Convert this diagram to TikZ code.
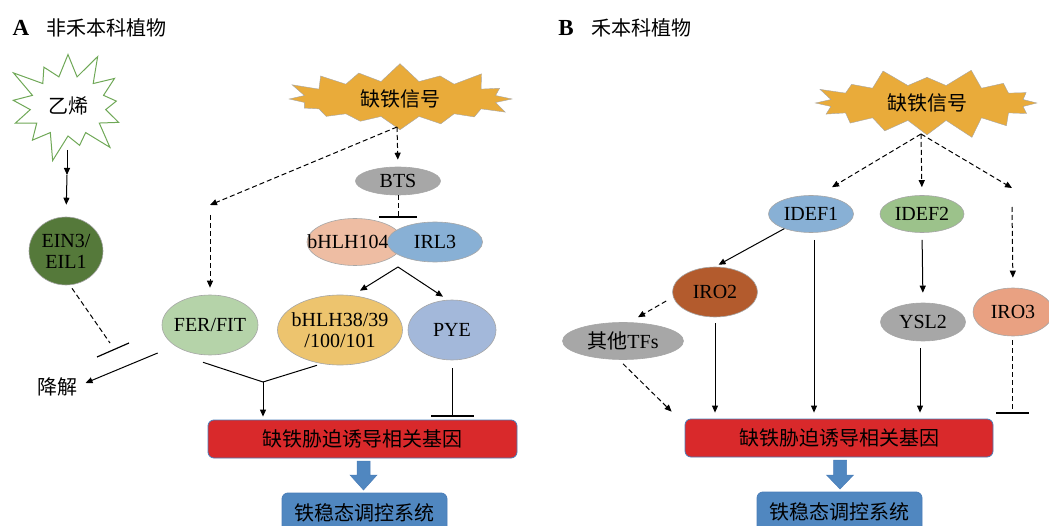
\documentclass[tikz,border=0pt]{standalone}
\usepackage{fontspec}
\setmainfont{Liberation Serif}
\newfontfamily\cjk{Noto Sans CJK SC}
\usetikzlibrary{shapes.geometric,shapes.symbols,arrows.meta}

\definecolor{sigfill}{HTML}{E9AB3A}
\definecolor{ethgreen}{HTML}{6FA857}
\definecolor{einfill}{HTML}{55793A}
\definecolor{ferfill}{HTML}{B5D3A9}
\definecolor{greyfill}{HTML}{A7A7A7}
\definecolor{pinkfill}{HTML}{EEBDA3}
\definecolor{bluefill}{HTML}{88B0D5}
\definecolor{yellowfill}{HTML}{EDC46E}
\definecolor{pyefill}{HTML}{A3B8DA}
\definecolor{idefgreen}{HTML}{9CC28B}
\definecolor{brownfill}{HTML}{B35B2D}
\definecolor{salmonfill}{HTML}{E9A182}
\definecolor{genered}{HTML}{D9292B}
\definecolor{boxedge}{HTML}{4A7DB8}
\definecolor{steelblue}{HTML}{5087C0}

\begin{document}
\begin{tikzpicture}[x=1pt,y=-1pt,font=\fontsize{20}{21}\selectfont,
  ell/.style={ellipse,draw=black!35,line width=0.6pt,inner sep=0pt},
  box/.style={rectangle,rounded corners=6pt,draw=boxedge,line width=0.8pt,inner sep=0pt},
  line/.style={draw,line width=1pt},
  act/.style={line,-{Triangle[length=7pt,width=6pt]}},
  dsh/.style={act,dash pattern=on 5pt off 3pt},
  inhib/.style={line,-{Bar[width=#1,line width=2pt]}},
  blk/.style={fill=steelblue,draw=boxedge,line width=0.5pt}]
\useasboundingbox (0,0) rectangle (1049,526);

% panel A
\node[font=\fontsize{23}{24}\selectfont\bfseries] (la) at (21,28) {A};
\node[anchor=west] (ta) at (43,28) {\cjk 非禾本科植物};

\node[starburst,starburst points=13,starburst point height=30pt,draw=ethgreen,line width=1pt,
  fill=white,minimum width=136pt,minimum height=120pt] (eth) at (68,106) {\cjk 乙烯};
\node[starburst,random starburst=17,starburst points=16,starburst point height=20pt,
  draw=black!35,fill=sigfill,minimum width=235pt,minimum height=63pt] (sigA) at (400,99) {\cjk 缺铁信号};

\node[ell,fill=einfill,minimum width=74pt,minimum height=68pt,
  label={[align=center]center:EIN3/\\EIL1}] (ein) at (66,251) {};
\node[ell,fill=ferfill,minimum width=96pt,minimum height=60pt,label=center:FER/FIT] (fer) at (210,325) {};
\node[ell,fill=greyfill,minimum width=85pt,minimum height=28pt,label=center:BTS] (bts) at (398,181) {};
\node[ell,fill=pinkfill,minimum width=96pt,minimum height=47pt,
  label={[xshift=-7pt]center:bHLH104}] (b104) at (355,242) {};
\node[ell,fill=bluefill,minimum width=95pt,minimum height=40pt,label=center:IRL3] (irl3) at (435,242) {};
\node[ell,fill=yellowfill,minimum width=125pt,minimum height=70pt,
  label={[align=center]center:bHLH38/39\\/100/101}] (b38) at (340,330) {};
\node[ell,fill=pyefill,minimum width=88pt,minimum height=60pt,label=center:PYE] (pye) at (452,330) {};
\node (deg) at (57,387) {\cjk 降解};

\node[box,fill=genered,minimum width=309pt,minimum height=38pt] (genA) at (362.5,439) {\cjk 缺铁胁迫诱导相关基因};
\node[box,fill=steelblue,minimum width=165pt,minimum height=40pt] (homA) at (364.5,513) {\cjk 铁稳态调控系统};

\coordinate (sA) at (397,127);
\coordinate (kA) at (210,205);
\coordinate (mA) at (67,175);
\coordinate (j1) at (398,267);
\coordinate (j2) at (263,382);
\coordinate (inhA) at (110,343);

\draw[act] (67,150) -- (mA);
\draw[act,shorten >=12pt] (mA) -- (ein.north);
\draw[line,dash pattern=on 5pt off 3pt] ([xshift=6pt,yshift=-3pt]ein.south) -- (inhA);
\draw[line,line width=1.2pt] (97,357) -- (129,343);
\draw[act] ([xshift=-4pt,yshift=-28pt]fer.west) -- ([xshift=5pt,yshift=4pt]deg.east);

\draw[dsh] (sA) -- (kA);
\draw[dsh,shorten >=7pt] ([yshift=-10pt]kA) -- (fer.north);
\draw[dsh,shorten >=7pt] (sA) -- (bts.north);
\draw[inhib=38pt,dash pattern=on 5pt off 3pt] (bts.south) -- (bts.south |- b104.north);
\draw[act] (j1) -- ([xshift=20pt,yshift=4pt]b38.north);
\draw[act] (j1) -- ([xshift=-9pt,yshift=3pt]pye.north);

\draw[line] ([xshift=-7pt,yshift=-7pt]fer.south) -- (j2);
\draw[line] ([xshift=-23pt]b38.south) -- (j2);
\draw[act,shorten >=3pt] (j2) -- (j2 |- genA.north);
\draw[inhib=43pt,shorten >=3pt] ([yshift=-8pt]pye.south) -- (pye.south |- genA.north);

\draw[blk,shift={(363.5,461)}] (-6.5,0) -- (6.5,0) -- (6.5,14) -- (13.5,14) -- (0,29)
  -- (-13.5,14) -- (-6.5,14) -- cycle;

% panel B
\node[font=\fontsize{23}{24}\selectfont\bfseries] (lb) at (566,28) {B};
\node[anchor=west] (tb) at (588,28) {\cjk 禾本科植物};

\node[starburst,random starburst=29,starburst points=16,starburst point height=20pt,
  draw=black!35,fill=sigfill,minimum width=236pt,minimum height=62pt] (sigB) at (927,103) {\cjk 缺铁信号};

\node[ell,fill=bluefill,minimum width=85pt,minimum height=37pt,label=center:IDEF1] (idef1) at (811,214) {};
\node[ell,fill=idefgreen,minimum width=84pt,minimum height=37pt,label=center:IDEF2] (idef2) at (922,214) {};
\node[ell,fill=brownfill,minimum width=85pt,minimum height=50pt,label=center:IRO2] (iro2) at (715,292) {};
\node[ell,fill=greyfill,minimum width=121pt,minimum height=37pt,label=center:{{\cjk 其他}TFs}] (tfs) at (623,341) {};
\node[ell,fill=greyfill,minimum width=85pt,minimum height=38pt,label=center:YSL2] (ysl2) at (923,322) {};
\node[ell,fill=salmonfill,minimum width=80pt,minimum height=48pt,label=center:IRO3] (iro3) at (1013,312) {};

\node[box,fill=genered,minimum width=308pt,minimum height=38pt] (genB) at (839,438) {\cjk 缺铁胁迫诱导相关基因};
\node[box,fill=steelblue,minimum width=165pt,minimum height=40pt] (homB) at (839.5,512) {\cjk 铁稳态调控系统};

\coordinate (sB) at (921,134);
\coordinate (kB) at (1012,188);

\draw[dsh] (sB) -- ([xshift=21pt,yshift=8pt]idef1.north);
\draw[dsh,shorten >=8pt] (sB) -- (idef2.north);
\draw[dsh] (sB) -- (kB);
\draw[dsh,shorten >=10pt] ([yshift=-19pt]kB) -- (iro3.north);

\draw[act,shorten >=4pt] ([xshift=-38pt,yshift=-14pt]idef1) -- (iro2.north);
\draw[act,shorten <=7pt,shorten >=6pt] ([xshift=3pt]idef1.south) -- ([xshift=3pt]idef1.south |- genB.north);
\draw[act,shorten <=7pt,shorten >=10pt] (idef2.south) -- (ysl2.north);
\draw[act,shorten <=7pt,shorten >=6pt] ([xshift=-3pt]ysl2.south) -- ([xshift=-3pt]ysl2.south |- genB.north);
\draw[inhib=33pt,dash pattern=on 5pt off 3pt,shorten <=4pt,shorten >=5pt] ([xshift=-1pt]iro3.south) -- ([xshift=-1pt]iro3.south |- genB.north);

\draw[dsh] ([xshift=-6pt,yshift=-9pt]iro2.west) -- ([xshift=15pt,yshift=5pt]tfs.north);
\draw[dsh] ([yshift=-4pt]tfs.south) -- ([xshift=-13pt,yshift=7pt]genB.north west);
\draw[act,shorten <=6pt,shorten >=6pt] (iro2.south) -- (iro2.south |- genB.north);

\draw[blk,shift={(840,460)}] (-6.5,0) -- (6.5,0) -- (6.5,15) -- (13.5,15) -- (0,29)
  -- (-13.5,15) -- (-6.5,15) -- cycle;
\end{tikzpicture}
\end{document}
